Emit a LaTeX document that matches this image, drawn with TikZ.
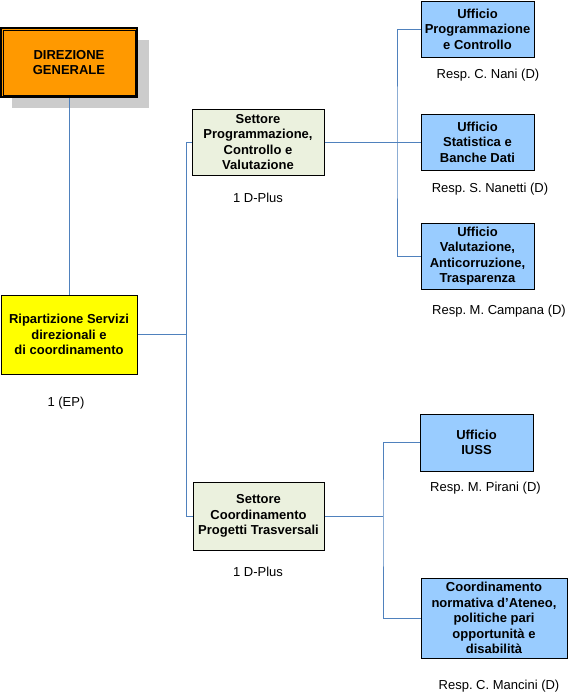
\documentclass[tikz,border=0pt]{standalone}
\usepackage{fontspec}
\setmainfont{Liberation Sans}
\frenchspacing
\definecolor{dgorange}{HTML}{FF9900}
\definecolor{ripyellow}{HTML}{FFFF00}
\definecolor{setgreen}{HTML}{EBF1DE}
\definecolor{uffblue}{HTML}{99CCFF}
\definecolor{shadowgray}{HTML}{CCCCCC}
\definecolor{linkblue}{HTML}{4F81BD}
\tikzset{
  box/.style={draw=black, line width=0.75pt, inner sep=0pt, align=center,
    font=\fontsize{9.75}{11.6}\selectfont\bfseries},
  lab/.style={inner sep=0pt, font=\fontsize{9.75}{11.6}\selectfont},
  link/.style={draw=linkblue, line width=0.75pt},
}
\begin{document}
\begin{tikzpicture}[x=0.75pt,y=-0.75pt]
\useasboundingbox (0,0) rectangle (568,694);
% shadow of DG
\fill[shadowgray] (12,40) rectangle (149,108);
% boxes
\node[box, fill=dgorange, line width=1.5pt, minimum width=136*0.75pt, minimum height=69*0.75pt] (dg) at (69,62.5) {DIREZIONE\\GENERALE};
\draw[line width=0.6pt] ([shift={(3,3)}]dg.north west) rectangle ([shift={(-3,-3)}]dg.south east);
\node[box, fill=ripyellow, minimum width=136*0.75pt, minimum height=79*0.75pt] (rip) at (69,334.5) {Ripartizione Servizi\\direzionali e\\di coordinamento};
\node[box, fill=setgreen, minimum width=132*0.75pt, minimum height=66*0.75pt] (sp) at (258,142) {Settore\\Programmazione,\\Controllo e\\Valutazione};
\node[box, fill=setgreen, minimum width=131*0.75pt, minimum height=68*0.75pt] (sc) at (258.5,516) {Settore\\Coordinamento\\Progetti Trasversali};
\node[box, fill=uffblue, minimum width=113*0.75pt, minimum height=56*0.75pt] (u1) at (477.5,29) {Ufficio\\Programmazione\\e Controllo};
\node[box, fill=uffblue, minimum width=113*0.75pt, minimum height=56*0.75pt] (u2) at (477.5,142) {Ufficio\\Statistica e\\Banche Dati};
\node[box, fill=uffblue, minimum width=113*0.75pt, minimum height=66*0.75pt] (u3) at (477.5,256) {Ufficio\\Valutazione,\\Anticorruzione,\\Trasparenza};
\node[box, fill=uffblue, minimum width=113*0.75pt, minimum height=57*0.75pt] (u4) at (476.5,442.5) {Ufficio\\IUSS};
\node[box, fill=uffblue, minimum width=146*0.75pt, minimum height=80*0.75pt] (u5) at (494,618) {Coordinamento\\normativa d’Ateneo,\\politiche pari\\opportunità e\\disabilità};
% labels
\node[lab] (l0) at (66,403) {1 (EP)};
\node[lab] (l1) at (258,198) {1 D-Plus};
\node[lab] (l2) at (258,572) {1 D-Plus};
\node[lab] (l3) at (488,75) {Resp. C. Nani (D)};
\node[lab] (l4) at (490,189) {Resp. S. Nanetti (D)};
\node[lab] (l5) at (499,311) {Resp. M. Campana (D)};
\node[lab] (l6) at (485.5,488) {Resp. M. Pirani (D)};
\node[lab] (l7) at (499,686) {Resp. C. Mancini (D)};
% junction coordinates
\coordinate (j1) at (186,334.5);
\coordinate (b1) at (397,142);
\coordinate (b2) at (383,516);
% connectors
\draw[link] (dg.south) -- (rip.north);
\draw[link] (rip.east) -- (j1);
\draw[link] (sp.west) -- (sp.west -| j1) -- (sc.west -| j1) -- (sc.west);
\draw[link] (sp.east) -- (u2.west);
\draw[link] (u1.west) -| (b1) |- (u3.west);
\draw[link] (sc.east) -- (b2);
\draw[link] (u4.west) -| (b2) |- (u5.west);
\end{tikzpicture}
\end{document}
